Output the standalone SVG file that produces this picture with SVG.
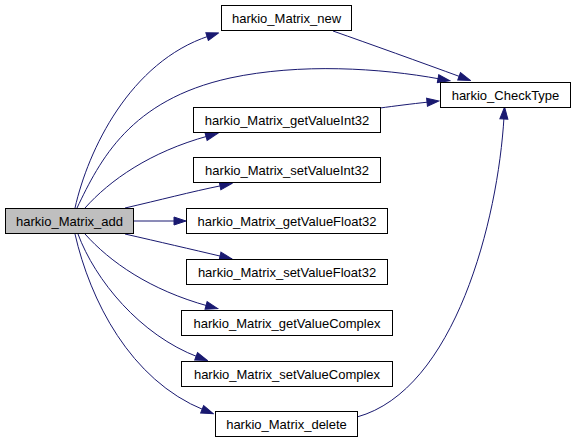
<svg xmlns="http://www.w3.org/2000/svg" width="576" height="443" viewBox="0 0 576 443">
<defs>
<style>
.node rect{fill:#ffffff;stroke:#000000;stroke-width:1}
.node.root rect{fill:#bfbfbf}
.node text{font-family:"Liberation Sans",Arial,sans-serif;font-size:13px;fill:#000000;text-anchor:middle}
.edge{fill:none;stroke:#191970;stroke-width:1;marker-end:url(#arrow)}
</style>
<marker id="arrow" markerUnits="userSpaceOnUse" markerWidth="14" markerHeight="10" viewBox="-1 -1 14 10" refX="2" refY="4" orient="auto">
<path d="M0,0 L12,4 L0,8 z" fill="#191970" stroke="#191970" stroke-width="1"/>
</marker>
</defs>
<rect width="576" height="443" fill="#ffffff"/>
<g id="connectors">
<path class="edge" d="M75,208 C88,150 130,62 209,36"/>
<path class="edge" d="M77,208 C100,160 130,100 230,78 C300,63 380,68 440,79"/>
<path class="edge" d="M333,31 C370,44 420,62 461,77"/>
<path class="edge" d="M380,108 C395,106 410,104 429,102"/>
<path class="edge" d="M85,208 C110,180 150,152 208,136"/>
<path class="edge" d="M125,208 C160,200 190,192 222,185.5"/>
<path class="edge" d="M133,221 L176,221"/>
<path class="edge" d="M125,234 C160,242 190,249 222,256.5"/>
<path class="edge" d="M85,234 C110,262 150,290 208,306"/>
<path class="edge" d="M78,234 C95,280 140,335 198,357"/>
<path class="edge" d="M75,234 C90,300 130,380 204,410"/>
<path class="edge" d="M357,417 C455,390 498,220 504,117"/>
</g>
<g id="node-add" class="node root"><rect x="5.5" y="208.5" width="128" height="25"/><text x="69.5" y="225.5">harkio_Matrix_add</text></g>
<g id="node-new" class="node"><rect x="221.5" y="5.5" width="130" height="25"/><text x="286.5" y="22.5">harkio_Matrix_new</text></g>
<g id="node-checktype" class="node"><rect x="440.5" y="82.5" width="130" height="25"/><text x="505.5" y="99.5">harkio_CheckType</text></g>
<g id="node-getint32" class="node"><rect x="193.5" y="107.5" width="187" height="25"/><text x="287" y="124.5">harkio_Matrix_getValueInt32</text></g>
<g id="node-setint32" class="node"><rect x="193.5" y="157.5" width="187" height="25"/><text x="287" y="174.5">harkio_Matrix_setValueInt32</text></g>
<g id="node-getfloat32" class="node"><rect x="186.5" y="208.5" width="201" height="25"/><text x="287" y="225.5">harkio_Matrix_getValueFloat32</text></g>
<g id="node-setfloat32" class="node"><rect x="186.5" y="259.5" width="201" height="25"/><text x="287" y="276.5">harkio_Matrix_setValueFloat32</text></g>
<g id="node-getcomplex" class="node"><rect x="181.5" y="310.5" width="211" height="25"/><text x="287" y="327.5">harkio_Matrix_getValueComplex</text></g>
<g id="node-setcomplex" class="node"><rect x="181.5" y="361.5" width="211" height="25"/><text x="287" y="378.5">harkio_Matrix_setValueComplex</text></g>
<g id="node-delete" class="node"><rect x="215.5" y="411.5" width="142" height="25"/><text x="286.5" y="428.5">harkio_Matrix_delete</text></g>
</svg>
